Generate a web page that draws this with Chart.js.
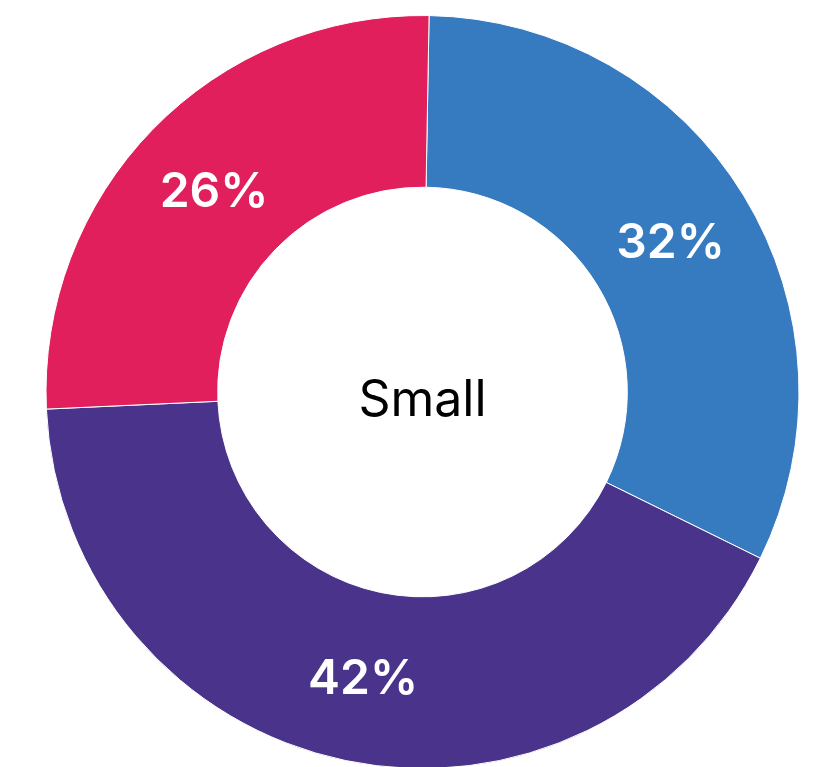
<!DOCTYPE html>
<html>
<head>
<meta charset="utf-8">
<script src="https://cdn.jsdelivr.net/npm/chart.js@4/dist/chart.umd.min.js"></script>
<style>
  html, body { margin: 0; padding: 0; background: #fff; overflow: hidden; }
  #wrap { position: relative; width: 820px; height: 790px; }
</style>
</head>
<body>
<div id="wrap"><canvas id="donut" width="820" height="790"></canvas></div>
<script>
const categories = ['Blue', 'Purple', 'Red'];
const shares = [32, 42, 26];
const sliceColors = ['#367AC0', '#4A348B', '#E01F5C'];
const centerLabel = 'Small';

// percentages inside each slice + the caption in the hole
const sliceText = {
  id: 'sliceText',
  afterDatasetsDraw(chart) {
    const ctx = chart.ctx;
    const meta = chart.getDatasetMeta(0);
    const total = shares.reduce((a, b) => a + b, 0);
    ctx.save();
    ctx.textAlign = 'center';
    ctx.textBaseline = 'alphabetic';

    ctx.fillStyle = '#fff';
    ctx.font = '600 48px Inter';
    meta.data.forEach((arc, i) => {
      const p = arc.tooltipPosition();
      const pct = Math.round(shares[i] / total * 100) + '%';
      ctx.fillText(pct, p.x, p.y + 48 * 0.727 / 2);
    });

    const c = meta.data[0];
    ctx.fillStyle = '#000';
    ctx.font = '400 50px Inter';
    ctx.fillText(centerLabel, c.x, c.y + 50 * 0.727 / 2 + 6);
    ctx.restore();
  }
};

new Chart(document.getElementById('donut'), {
  type: 'doughnut',
  data: {
    labels: categories,
    datasets: [{
      data: shares,
      backgroundColor: sliceColors,
      borderColor: '#ffffff',
      borderWidth: 1
    }]
  },
  options: {
    responsive: false,
    animation: false,
    cutout: '54.4%',
    rotation: 1,
    layout: { padding: { left: 45.5, right: 20.5, top: 15, bottom: 21 } },
    plugins: {
      legend: { display: false },
      tooltip: { enabled: false }
    }
  },
  plugins: [sliceText]
});
</script>
</body>
</html>
